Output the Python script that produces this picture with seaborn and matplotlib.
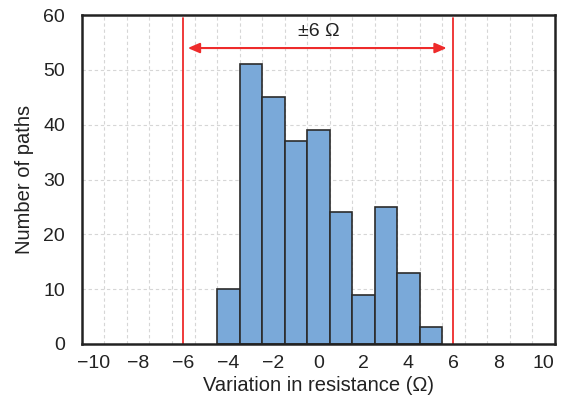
import numpy as np
import pandas as pd
import matplotlib
matplotlib.use("Agg")
import matplotlib.pyplot as plt
import seaborn as sns

# Data
bin_centers = [-4, -3, -2, -1, 0, 1, 2, 3, 4, 5]
counts = [10, 51, 45, 37, 39, 24, 9, 25, 13, 3]
x_ticks = [-10, -8, -6, -4, -2, 0, 2, 4, 6, 8, 10]
y_ticks = [0, 10, 20, 30, 40, 50, 60]
limit = 6

sns.set_style("white")
plt.rcParams['font.family'] = ['Liberation Sans', 'DejaVu Sans']

fig = plt.figure(figsize=(5.61, 3.99), dpi=100)
ax = fig.add_axes([0.146, 0.138, 0.843, 0.824])

df = pd.DataFrame({"variation": bin_centers, "count": counts})
sns.histplot(data=df, x="variation", weights="count", binwidth=1,
             binrange=(min(bin_centers) - 0.5, max(bin_centers) + 0.5), ax=ax,
             color="#7AA9D9", alpha=1.0, edgecolor="#2b2b2b", linewidth=1.2,
             zorder=3)

ax.set_xlim(-10.5, 10.5)
ax.set_ylim(0, 60)
ax.set_xticks(x_ticks)
ax.set_xticklabels([f"\u2212{abs(v)}" if v < 0 else str(v) for v in x_ticks])
ax.set_yticks(y_ticks)
ax.set_xticks(np.arange(-9.5, 10.0, 1.0), minor=True)

ax.grid(False)
ax.grid(True, which="minor", axis="x", linestyle=(0, (3, 2.5)), color="#d6d6d6", linewidth=0.8, zorder=0)
ax.grid(True, which="major", axis="y", linestyle=(0, (3, 2.5)), color="#d6d6d6", linewidth=0.8, zorder=0)
ax.set_axisbelow(True)

ax.tick_params(axis="both", which="both", length=0, labelsize=14, colors="#222222")
ax.tick_params(axis="y", pad=12)
ax.tick_params(axis="x", pad=8)

for s in ax.spines.values():
    s.set_visible(True)
    s.set_color("#222222")
    s.set_linewidth(1.8)
    s.set_zorder(5)

ax.set_xlabel("Variation in resistance (\u03a9)", fontsize=14.5, color="#222222", labelpad=3)
ax.set_ylabel("Number of paths", fontsize=14.5, color="#222222", labelpad=7)

# Tolerance lines
for v in (-limit, limit):
    ax.axvline(v, ymin=0, ymax=0.99, color="#EE2B2B", linewidth=1.3, zorder=4)

ax.annotate("", xy=(-limit + 0.2, 54), xytext=(limit - 0.3, 54),
            arrowprops=dict(arrowstyle="<|-|>,head_length=0.7,head_width=0.3",
                            color="#EE2B2B", lw=1.5, shrinkA=0, shrinkB=0),
            zorder=4)
ax.text(0, 57.0, "\u00b16 \u03a9", ha="center", va="center", fontsize=14, color="#222222")

fig.savefig("out.png", dpi=100)
